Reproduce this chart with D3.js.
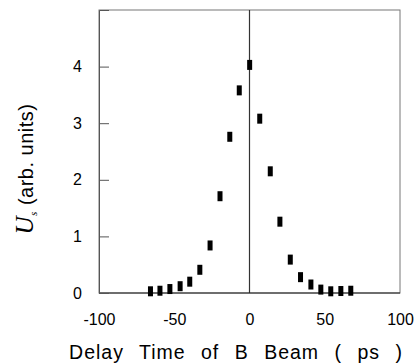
<!DOCTYPE html>
<html>
<head>
<meta charset="utf-8">
<script src="https://cdn.jsdelivr.net/npm/d3@7"></script>
<style>
  body { margin: 0; background: #fff; }
  svg text { font-family: "Liberation Sans", Arial, sans-serif; fill: #000; }
</style>
</head>
<body>
<div id="chart"></div>
<script>
// delay (ps) and signal U_s (arb. units)
var delays = [-65.8, -59.5, -52.9, -46.1, -39.7, -33.0, -26.2, -19.6, -13.1, -6.8,
              0.1, 6.8, 13.8, 20.2, 27.1, 33.9, 40.8, 47.4, 54.0, 60.7, 67.3];
var signal = [0.03, 0.04, 0.07, 0.12, 0.20, 0.41, 0.84, 1.71, 2.76, 3.58,
              4.03, 3.08, 2.15, 1.26, 0.59, 0.28, 0.15, 0.06, 0.03, 0.035, 0.04];
var xTicks = [-100, -50, 0, 50, 100];
var yTicks = [0, 1, 2, 3, 4];

var W = 417, H = 364,
    m = { left: 99, right: 17, top: 10, bottom: 71 };

var svg = d3.select("#chart").append("svg")
    .attr("width", W).attr("height", H);

var x = d3.scaleLinear().domain([-100, 100]).range([m.left, W - m.right]),
    y = d3.scaleLinear().domain([0, 5]).range([H - m.bottom, m.top]);

// frame
svg.append("rect")
   .attr("x", x(-100)).attr("y", y(5))
   .attr("width", x(100) - x(-100)).attr("height", y(0) - y(5))
   .attr("fill", "none").attr("stroke", "#777").attr("stroke-width", 1);

// vertical line at zero delay
svg.append("line")
   .attr("x1", x(0)).attr("x2", x(0))
   .attr("y1", y(5)).attr("y2", y(0))
   .attr("stroke", "#333").attr("stroke-width", 1.2);

// baseline
svg.append("line")
   .attr("x1", x(-100)).attr("x2", x(100))
   .attr("y1", y(0)).attr("y2", y(0))
   .attr("stroke", "#222").attr("stroke-width", 1.2);

// y axis, ticks pointing inward
var yAxis = svg.append("g")
   .attr("transform", "translate(" + x(-100) + ",0)")
   .call(d3.axisRight(y).tickValues(yTicks).tickSize(10).tickFormat(d3.format("d")));
yAxis.select(".domain").attr("stroke", "#555");
yAxis.selectAll(".tick line").attr("stroke", "#555");
yAxis.selectAll(".tick text")
     .attr("x", -17).attr("text-anchor", "end")
     .style("font-size", "16px");

// x axis labels only
var xAxis = svg.append("g")
   .attr("transform", "translate(0," + y(0) + ")")
   .call(d3.axisBottom(x).tickValues(xTicks).tickSize(0).tickPadding(21)
           .tickFormat(function(d) { return String(d); }));
xAxis.select(".domain").remove();
xAxis.selectAll(".tick text").style("font-size", "16px");

// data marks
svg.append("g").selectAll("rect")
   .data(delays)
   .join("rect")
   .attr("x", function(d) { return x(d) - 2.5; })
   .attr("y", function(d, i) { return y(signal[i]) - 5; })
   .attr("width", 5).attr("height", 10)
   .attr("fill", "#000");

// axis titles
svg.append("text")
   .attr("x", 236).attr("y", 359)
   .attr("text-anchor", "middle")
   .style("font-size", "19.5px")
   .style("letter-spacing", "1px")
   .style("word-spacing", "9px")
   .text("Delay Time of B Beam ( ps )");

var yt = svg.append("text")
   .attr("transform", "translate(33,169) rotate(-90)")
   .attr("text-anchor", "middle")
   .style("font-size", "20px")
   .style("letter-spacing", "0.5px");
yt.append("tspan")
  .style("font-family", "'Liberation Serif', 'Times New Roman', serif")
  .style("font-style", "italic")
  .style("font-size", "25px")
  .text("U");
yt.append("tspan")
  .attr("dy", 4)
  .style("font-family", "'Liberation Serif', 'Times New Roman', serif")
  .style("font-style", "italic")
  .style("font-size", "11px")
  .text("s");
yt.append("tspan")
  .attr("dy", -4)
  .text(" (arb. units)");
</script>
</body>
</html>
